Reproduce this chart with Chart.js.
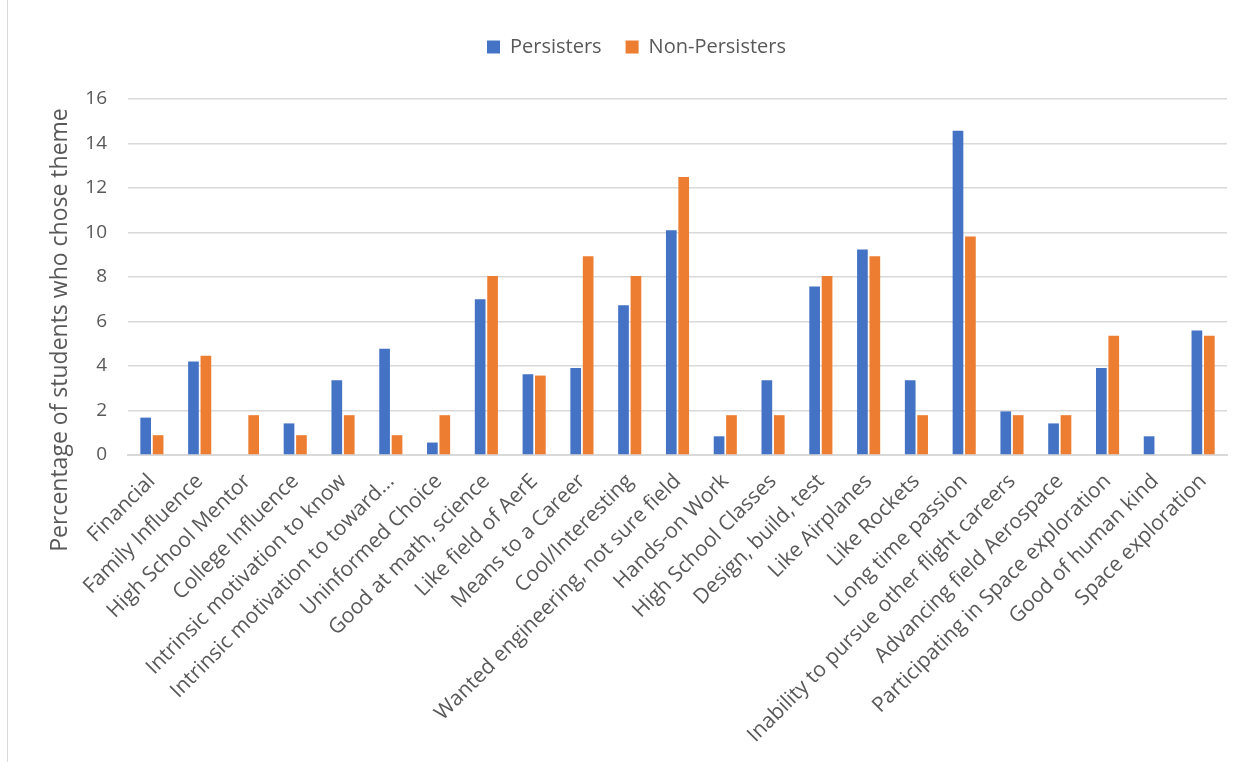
<!DOCTYPE html>
<html>
<head>
<meta charset="utf-8">
<script src="https://cdn.jsdelivr.net/npm/chart.js@4"></script>
<style>
  html, body { margin: 0; padding: 0; background: #fff; }
  #wrap { position: relative; width: 1254px; height: 762px; }
  #frame { position: absolute; left: 7px; top: 0; width: 1px; height: 762px; background: #d9d9d9; }
  canvas { position: absolute; left: 0; top: 0; }
</style>
</head>
<body>
<div id="wrap">
  <canvas id="c" width="1254" height="762"></canvas>
  <div id="frame"></div>
</div>
<script>
const categories = [
  "Financial", "Family Influence", "High School Mentor", "College Influence",
  "Intrinsic motivation to know", "Intrinsic motivation to toward...", "Uninformed Choice",
  "Good at math, science", "Like field of AerE", "Means to a Career", "Cool/Interesting",
  "Wanted engineering, not sure field", "Hands-on Work", "High School Classes",
  "Design, build, test", "Like Airplanes", "Like Rockets", "Long time passion",
  "Inability to pursue other flight careers", "Advancing field Aerospace",
  "Participating in Space exploration", "Good of human kind", "Space exploration"
];
const persisters = [1.68, 4.2, 0, 1.42, 3.36, 4.77, 0.56, 7.0, 3.63, 3.91, 6.73, 10.1, 0.84, 3.36, 7.57, 9.24, 3.36, 14.57, 1.96, 1.42, 3.91, 0.84, 5.6];
const nonPersisters = [0.89, 4.46, 1.79, 0.89, 1.79, 0.89, 1.79, 8.04, 3.57, 8.93, 8.04, 12.5, 1.79, 1.79, 8.04, 8.93, 1.79, 9.82, 1.79, 1.79, 5.36, 0, 5.36];
const yTicks = [0, 2, 4, 6, 8, 10, 12, 14, 16];
const yTitle = "Percentage of students who chose theme";
const FONT = "'Open Sans', sans-serif";
const TXT = "#595959";

const layoutPlugin = {
  id: 'layoutPlugin',
  beforeLayout(chart) {
    const lg = chart.legend;
    if (lg && !lg._patched) {
      const orig = lg.fit;
      lg.fit = function () { orig.call(this); this.height = 86; };
      lg._patched = true;
    }
  },
  afterLayout(chart) {
    if (chart.legend) { chart.legend.left += 38; }
  },
  afterDraw(chart) {
    const ctx = chart.ctx;
    ctx.save();
    ctx.translate(60, 330);
    ctx.rotate(-Math.PI / 2);
    ctx.font = "23px " + FONT;
    ctx.fillStyle = TXT;
    ctx.textAlign = "center";
    ctx.textBaseline = "middle";
    ctx.fillText(yTitle, 0, 0);
    ctx.restore();
  }
};

new Chart(document.getElementById('c'), {
  type: 'bar',
  data: {
    labels: categories,
    datasets: [
      { label: "Persisters", data: persisters, backgroundColor: "#4472C4", borderWidth: 0,
        categoryPercentage: 0.52, barPercentage: 0.86 },
      { label: "Non-Persisters", data: nonPersisters, backgroundColor: "#ED7D31", borderWidth: 0,
        categoryPercentage: 0.52, barPercentage: 0.86 }
    ]
  },
  options: {
    responsive: false,
    animation: false,
    devicePixelRatio: 1,
    layout: { padding: { left: 8, right: 27, top: 13, bottom: 8 } },
    plugins: {
      legend: {
        position: 'top',
        labels: { font: { family: FONT, size: 20 }, color: TXT, boxWidth: 13, boxHeight: 13, padding: 24 }
      },
      tooltip: { enabled: false }
    },
    scales: {
      x: {
        grid: { display: false },
        border: { color: "#d9d9d9", width: 2 },
        ticks: { font: { family: FONT, size: 21 }, color: TXT, minRotation: 45, maxRotation: 45, autoSkip: false, padding: 6 },
        afterFit(scale) { scale.height = 299; }
      },
      y: {
        min: 0, max: 16,
        afterBuildTicks(scale) { scale.ticks = yTicks.map(v => ({ value: v })); },
        grid: { color: "#d9d9d9", lineWidth: 1.5, drawTicks: false },
        border: { display: false },
        ticks: { font: { family: FONT, size: 19 }, color: TXT, padding: 21 },
        afterFit(scale) { scale.width = 120; }
      }
    }
  },
  plugins: [layoutPlugin]
});
</script>
</body>
</html>
